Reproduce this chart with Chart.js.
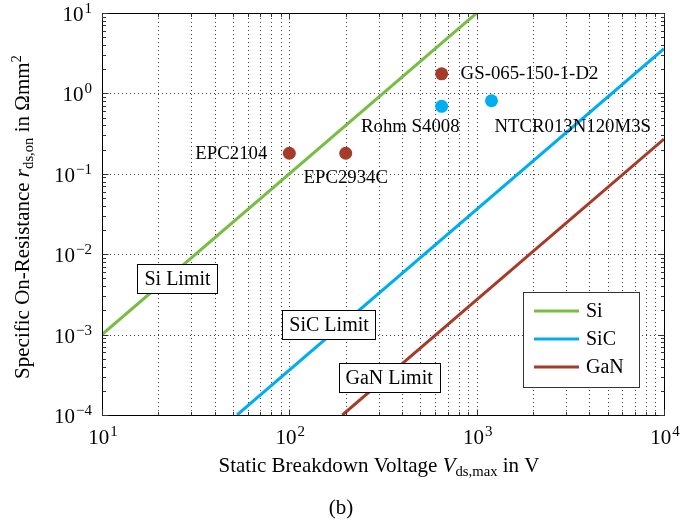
<!DOCTYPE html>
<html>
<head>
<meta charset="utf-8">
<script src="https://cdn.jsdelivr.net/npm/chart.js@4.4.1/dist/chart.umd.min.js"></script>
<style>
  html, body { margin: 0; padding: 0; background: #ffffff; }
  #wrap { width: 681px; height: 523px; }
</style>
</head>
<body>
<div id="wrap"><canvas id="c" width="681" height="523"></canvas></div>
<script>
// Theoretical material limits: straight lines on the log-log axes, given by their end points
const siLimitV  = [10, 1000];
const siLimitR  = [1e-3, 10];
const sicLimitV = [52.6, 10000];
const sicLimitR = [1e-4, 3.6];
const ganLimitV = [192, 10000];
const ganLimitR = [1e-4, 0.27];

// Commercial devices
const ganDeviceNames = ['EPC2104', 'EPC2934C', 'GS-065-150-1-D2'];
const ganDeviceV     = [100, 200, 650];
const ganDeviceR     = [0.18, 0.18, 1.75];
const sicDeviceNames = ['Rohm S4008', 'NTCR013N120M3S'];
const sicDeviceV     = [650, 1200];
const sicDeviceR     = [0.69, 0.81];

// Axis decades (tick labels are 10^n)
const xDecades = [1, 2, 3, 4];
const yDecades = [-4, -3, -2, -1, 0, 1];

const seriesNames = ['Si', 'SiC', 'GaN'];
const limitNames  = ['Si Limit', 'SiC Limit', 'GaN Limit'];

// ---- styling ----
const COL_SI  = '#78bd45';
const COL_SIC = '#00aeef';
const COL_GAN = '#a53b28';
const SERIF = '"Liberation Serif", "DejaVu Serif", serif';

// minor + major tick values for every decade of an axis
function logTicks(decades) {
  const out = [];
  for (let i = 0; i < decades.length; i++) {
    const base = Math.pow(10, decades[i]);
    out.push(base);
    if (i < decades.length - 1) {
      for (let m = 2; m <= 9; m++) out.push(m * base);
    }
  }
  return out;
}
const xTickValues = logTicks(xDecades);
const yTickValues = logTicks(yDecades);
const isDecade = v => Math.abs(Math.log10(v) - Math.round(Math.log10(v))) < 1e-9;

const pts = (xs, ys) => xs.map((v, i) => ({ x: v, y: ys[i] }));

// placement of the annotations (data coordinates) and device label offsets (pixels)
const limitBoxAt = [
  { x: 25.3, y: 5.0e-3 },
  { x: 163,  y: 1.34e-3 },
  { x: 341,  y: 2.9e-4 }
];
const deviceLabelStyle = {
  'EPC2104':          { dx: -22, dy: 1,  align: 'right' },
  'EPC2934C':         { dx: 0,   dy: 25, align: 'center' },
  'GS-065-150-1-D2':  { dx: 19,  dy: 0,  align: 'left' },
  'Rohm S4008':       { dx: 18,  dy: 21, align: 'right' },
  'NTCR013N120M3S':   { dx: 3,   dy: 26, align: 'left' }
};

function drawPow(ctx, exp, x, y, align) {
  // "10" with a raised exponent; y is the baseline of "10"
  const base = '10';
  const sup = exp < 0 ? '\u2212' + Math.abs(exp) : String(exp);
  ctx.font = '21px ' + SERIF;
  const wb = ctx.measureText(base).width;
  ctx.font = '15px ' + SERIF;
  const ws = ctx.measureText(sup).width;
  const w = wb + ws + 1;
  let left = x;
  if (align === 'center') left = x - w / 2;
  else if (align === 'right') left = x - w;
  ctx.textAlign = 'left';
  ctx.textBaseline = 'alphabetic';
  ctx.font = '21px ' + SERIF;
  ctx.fillText(base, left, y);
  ctx.font = '15px ' + SERIF;
  ctx.fillText(sup, left + wb + 1, y - 8);
}

// text made of [text, font, dy] runs
function runsWidth(ctx, runs) {
  let w = 0;
  for (const r of runs) { ctx.font = r[1]; w += ctx.measureText(r[0]).width; }
  return w;
}
function drawRuns(ctx, runs, x, y) {
  let cx = x;
  ctx.textAlign = 'left';
  ctx.textBaseline = 'alphabetic';
  for (const r of runs) {
    ctx.font = r[1];
    ctx.fillText(r[0], cx, y + (r[2] || 0));
    cx += ctx.measureText(r[0]).width;
  }
}

// dotted grid: every x tick, y decades only
const dottedGrid = {
  id: 'dottedGrid',
  beforeDatasetsDraw(chart) {
    const ctx = chart.ctx;
    const a = chart.chartArea;
    const xs = chart.scales.x, ys = chart.scales.y;
    ctx.save();
    ctx.strokeStyle = 'rgba(0,0,0,0.75)';
    ctx.lineWidth = 1;
    ctx.setLineDash([1, 3]);
    ctx.beginPath();
    xTickValues.forEach(v => {
      if (v <= xs.min || v >= xs.max) return;
      const p = Math.round(xs.getPixelForValue(v)) + 0.5;
      ctx.moveTo(p, a.bottom);
      ctx.lineTo(p, a.top);
    });
    yTickValues.forEach(v => {
      if (!isDecade(v) || v <= ys.min || v >= ys.max) return;
      const p = Math.round(ys.getPixelForValue(v)) + 0.5;
      ctx.moveTo(a.left, p);
      ctx.lineTo(a.right, p);
    });
    ctx.stroke();
    ctx.restore();
  }
};

const decorations = {
  id: 'decorations',
  afterDatasetsDraw(chart) {
    const ctx = chart.ctx;
    const a = chart.chartArea;
    const xs = chart.scales.x, ys = chart.scales.y;
    ctx.save();
    ctx.fillStyle = '#000';
    ctx.strokeStyle = '#000';

    // limit annotation boxes
    ctx.font = '20px ' + SERIF;
    limitNames.forEach((t, i) => {
      const cx = xs.getPixelForValue(limitBoxAt[i].x);
      const cy = ys.getPixelForValue(limitBoxAt[i].y);
      const w = ctx.measureText(t).width + 14;
      const h = 29;
      const l = Math.round(cx - w / 2) + 0.5, tp = Math.round(cy - h / 2) + 0.5;
      ctx.fillStyle = '#fff';
      ctx.fillRect(l, tp, Math.round(w), h);
      ctx.lineWidth = 1;
      ctx.strokeRect(l, tp, Math.round(w), h);
      ctx.fillStyle = '#000';
      ctx.textAlign = 'center';
      ctx.textBaseline = 'middle';
      ctx.fillText(t, cx, cy + 1);
    });

    // device labels
    ctx.font = '18.8px ' + SERIF;
    ctx.textBaseline = 'middle';
    const labelDevices = (names, vs, rs) => names.forEach((n, i) => {
      const s = deviceLabelStyle[n];
      const px = xs.getPixelForValue(vs[i]);
      const py = ys.getPixelForValue(rs[i]);
      ctx.textAlign = s.align;
      ctx.fillText(n, px + s.dx, py + s.dy);
    });
    labelDevices(ganDeviceNames, ganDeviceV, ganDeviceR);
    labelDevices(sicDeviceNames, sicDeviceV, sicDeviceR);

    // legend
    const lgR = a.right - 25, lgB = a.bottom - 28;
    const lgW = 116, lgH = 95;
    const lgL = lgR - lgW, lgT = lgB - lgH;
    ctx.fillStyle = '#fff';
    ctx.fillRect(lgL + 0.5, lgT + 0.5, lgW, lgH);
    ctx.strokeStyle = '#333';
    ctx.lineWidth = 1;
    ctx.strokeRect(lgL + 0.5, lgT + 0.5, lgW, lgH);
    const legendColors = [COL_SI, COL_SIC, COL_GAN];
    seriesNames.forEach((n, i) => {
      const y = lgT + 19 + i * 28;
      ctx.strokeStyle = legendColors[i];
      ctx.lineWidth = 3;
      ctx.beginPath();
      ctx.moveTo(lgL + 11, y);
      ctx.lineTo(lgL + 56, y);
      ctx.stroke();
      ctx.fillStyle = '#000';
      ctx.font = '20px ' + SERIF;
      ctx.textAlign = 'left';
      ctx.textBaseline = 'middle';
      ctx.fillText(n, lgL + 63, y + 1);
    });

    // frame
    ctx.strokeStyle = '#000';
    ctx.lineWidth = 1;
    const fl = Math.round(a.left) + 0.5, fr = Math.round(a.right) + 0.5;
    const ft = Math.round(a.top) + 0.5, fb = Math.round(a.bottom) + 0.5;
    ctx.strokeRect(fl, ft, fr - fl, fb - ft);

    // inward ticks on all four sides
    ctx.strokeStyle = '#333';
    ctx.beginPath();
    xTickValues.forEach(v => {
      const p = Math.round(xs.getPixelForValue(v)) + 0.5;
      const len = isDecade(v) ? 6 : 3.5;
      ctx.moveTo(p, fb); ctx.lineTo(p, fb - len);
      ctx.moveTo(p, ft); ctx.lineTo(p, ft + len);
    });
    yTickValues.forEach(v => {
      const p = Math.round(ys.getPixelForValue(v)) + 0.5;
      const len = isDecade(v) ? 6 : 3.5;
      ctx.moveTo(fl, p); ctx.lineTo(fl + len, p);
      ctx.moveTo(fr, p); ctx.lineTo(fr - len, p);
    });
    ctx.stroke();

    // tick labels
    ctx.fillStyle = '#000';
    xDecades.forEach(d => drawPow(ctx, d, xs.getPixelForValue(Math.pow(10, d)) + 1, a.bottom + 29, 'center'));
    yDecades.forEach(d => drawPow(ctx, d, a.left - 10, ys.getPixelForValue(Math.pow(10, d)) + 8, 'right'));

    // axis titles
    const F = '21px ' + SERIF, FI = 'italic 21px ' + SERIF, FS = '14.7px ' + SERIF;
    const xRuns = [['Static Breakdown Voltage ', F], ['V', FI], ['ds,max', FS, 4], [' in V', F]];
    const xw = runsWidth(ctx, xRuns);
    drawRuns(ctx, xRuns, (a.left + a.right) / 2 - xw / 2 - 4, 472);

    const yRuns = [['Specific On-Resistance ', F], ['r', FI], ['ds,on', FS, 4], [' in \u03A9mm', F], ['2', FS, -8]];
    const yw = runsWidth(ctx, yRuns);
    ctx.save();
    ctx.translate(29, (a.top + a.bottom) / 2 + 3);
    ctx.rotate(-Math.PI / 2);
    drawRuns(ctx, yRuns, -yw / 2, 0);
    ctx.restore();

    // caption
    ctx.font = '21px ' + SERIF;
    ctx.textAlign = 'center';
    ctx.textBaseline = 'alphabetic';
    ctx.fillText('(b)', 341, 514);

    ctx.restore();
  }
};

new Chart(document.getElementById('c'), {
  type: 'scatter',
  data: {
    datasets: [
      { label: seriesNames[0], data: pts(siLimitV, siLimitR), showLine: true, borderColor: COL_SI, borderWidth: 3, pointRadius: 0, fill: false },
      { label: seriesNames[1], data: pts(sicLimitV, sicLimitR), showLine: true, borderColor: COL_SIC, borderWidth: 3, pointRadius: 0, fill: false },
      { label: seriesNames[2], data: pts(ganLimitV, ganLimitR), showLine: true, borderColor: COL_GAN, borderWidth: 3, pointRadius: 0, fill: false },
      { label: 'GaN devices', data: pts(ganDeviceV, ganDeviceR), showLine: false, pointRadius: 6.5, pointBackgroundColor: COL_GAN, pointBorderWidth: 0, backgroundColor: COL_GAN },
      { label: 'SiC devices', data: pts(sicDeviceV, sicDeviceR), showLine: false, pointRadius: 6.5, pointBackgroundColor: COL_SIC, pointBorderWidth: 0, backgroundColor: COL_SIC }
    ]
  },
  options: {
    responsive: false,
    maintainAspectRatio: false,
    devicePixelRatio: 1,
    animation: false,
    events: [],
    layout: { padding: { left: 102, right: 17, top: 13, bottom: 108 } },
    plugins: { legend: { display: false }, tooltip: { enabled: false } },
    scales: {
      x: {
        type: 'logarithmic', min: 10, max: 10000,
        afterBuildTicks: s => { s.ticks = xTickValues.map(v => ({ value: v })); },
        afterFit: s => { s.height = 0; },
        ticks: { display: false, autoSkip: false },
        grid: { display: false },
        border: { display: false }
      },
      y: {
        type: 'logarithmic', min: 1e-4, max: 10,
        afterBuildTicks: s => { s.ticks = yTickValues.map(v => ({ value: v })); },
        afterFit: s => { s.width = 0; },
        ticks: { display: false, autoSkip: false },
        grid: { display: false },
        border: { display: false }
      }
    }
  },
  plugins: [dottedGrid, decorations]
});
</script>
</body>
</html>
